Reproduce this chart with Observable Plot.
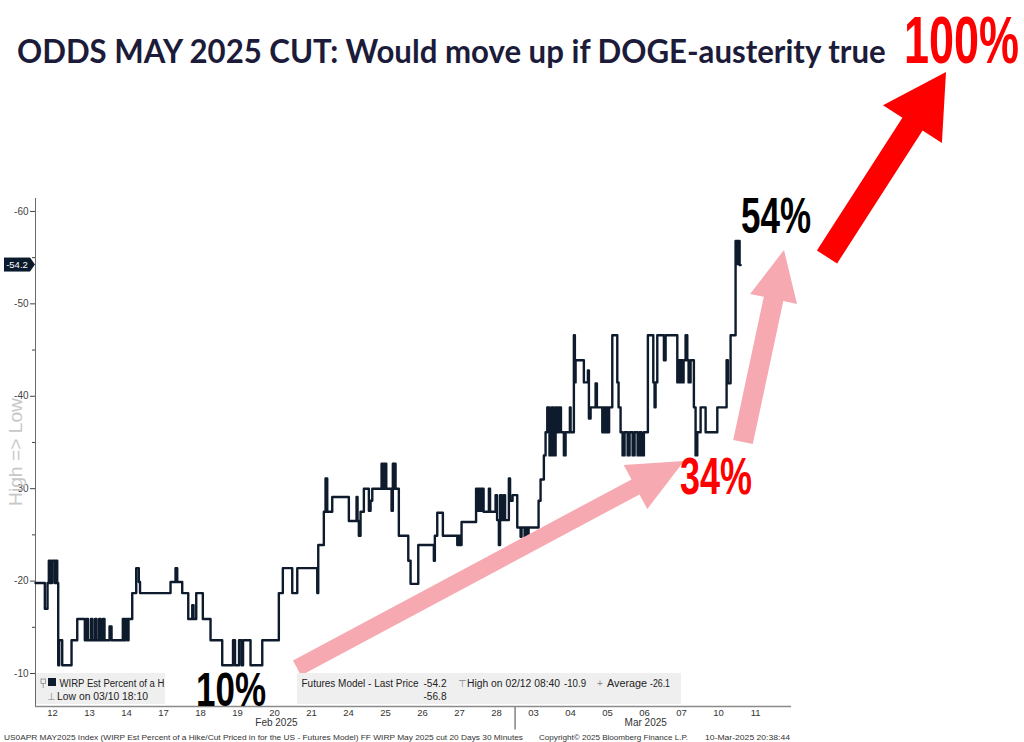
<!DOCTYPE html>
<html><head><meta charset="utf-8">
<script src="https://cdn.jsdelivr.net/npm/d3@7"></script>
<script src="https://cdn.jsdelivr.net/npm/@observablehq/plot@0.6"></script>
<style>
html,body{margin:0;padding:0;background:#fff;width:1024px;height:742px;overflow:hidden;}
#wrap{position:relative;width:1024px;height:742px;}
#wrap svg{position:absolute;left:0;top:0;}
</style></head><body><div id="wrap"></div>
<script>
// ---- data ----
const tradingDays = ["12","13","14","17","18","19","20","21","24","25","26","27","28","03","04","05","06","07","10","11"];
const monthLabels = ["Feb 2025","Mar 2025"];
const monthLabelPos = [6.55, 16.53];
const monthBreak = [13];
const yTicks = [-60,-50,-40,-30,-20,-10];
const yMinorTicks = [-55,-45,-35,-25,-15];
const lastPrice = -54.2, lowValue = -56.8, highValue = -10.9, averageValue = -26.1;

// session position (trading-day index + fraction of day) and value
const sessionPos = [0.041,0.292,0.365,0.400,0.446,0.486,0.554,0.581,0.627,0.654,0.681,0.762,1.014,1.168,
  1.373,1.420,1.460,1.540,1.580,1.650,1.690,1.760,1.800,1.860,1.905,2.041,2.095,2.400,2.446,2.473,2.527,2.554,2.654,2.762,2.832,2.865,3.689,3.824,3.870,4.005,4.168,4.276,4.311,4.384,4.562,4.770,5.086,
  5.378,5.432,5.541,5.608,5.649,5.851,6.168,6.616,6.724,6.978,7.114,7.654,7.681,7.832,7.878,7.924,8.059,8.508,8.716,8.743,8.778,8.824,8.914,9.049,9.095,9.141,
  9.392,9.440,9.473,9.519,9.662,9.697,9.716,9.730,9.770,9.859,10.114,10.176,10.384,10.805,10.832,10.897,11.049,11.438,11.459,11.473,11.500,11.527,11.554,11.946,11.986,12.022,12.068,12.095,12.149,12.292,12.324,12.473,12.514,12.562,12.595,12.635,12.689,12.730,12.832,12.865,12.932,13.059,13.149,13.176,13.257,13.284,13.338,13.365,13.635,13.689,
  13.778,13.824,13.870,13.930,13.986,14.040,14.095,14.149,14.189,14.240,14.319,14.365,14.481,14.500,14.589,14.616,14.635,14.859,14.968,14.995,15.041,15.176,15.211,15.357,15.378,15.405,15.432,15.459,15.486,15.514,15.541,15.627,15.762,15.797,15.851,
  15.905,15.959,16.041,16.095,16.176,16.230,16.311,16.365,16.420,16.481,16.589,16.735,16.770,16.797,16.843,17.022,17.068,17.384,17.419,17.446,17.473,17.514,17.554,17.608,17.654,17.689,17.743,17.832,17.878,17.924,18.014,18.149,18.465,18.716,18.751,18.824,18.959,19.014,19.041,19.068,19.095];
const wirpValues = [-19.8,-17.0,-19.8,-22.2,-19.8,-22.2,-19.8,-22.2,-19.8,-10.9,-13.6,-10.9,-13.6,-15.9,
  -13.6,-15.9,-13.6,-15.9,-13.6,-15.9,-13.6,-15.9,-13.6,-15.9,-13.6,-15.1,-13.6,-15.9,-13.6,-15.9,-13.6,-15.9,-18.7,-21.4,-19.9,-18.7,-19.9,-21.4,-19.9,-18.7,-15.9,-17.4,-15.9,-18.7,-15.9,-13.6,-10.9,
  -13.6,-10.9,-13.6,-10.9,-13.6,-10.9,-13.6,-18.7,-21.4,-18.7,-21.4,-18.7,-23.9,-27.5,-31.1,-27.5,-29.1,-26.5,-29.1,-26.5,-24.9,-27.5,-30.0,-27.6,-28.7,-30.0,
  -32.7,-30.0,-32.7,-30.0,-27.6,-32.7,-30.0,-32.7,-30.0,-24.9,-22.2,-19.7,-23.9,-22.2,-24.9,-27.4,-24.9,-23.9,-24.9,-23.9,-24.9,-23.9,-26.4,-30.0,-27.6,-30.0,-27.6,-30.0,-27.5,-30.0,-27.5,-29.3,-26.6,-23.9,-29.3,-26.6,-29.3,-26.6,-31.1,-28.7,-29.3,-25.8,-24.8,-25.8,-24.8,-25.8,-24.8,-25.8,-28.7,-31.0,
  -33.6,-36.1,-38.8,-33.6,-38.8,-33.6,-38.8,-36.1,-38.8,-36.1,-33.6,-36.1,-38.8,-36.1,-46.6,-41.5,-43.9,-41.5,-42.8,-37.6,-38.8,-41.4,-38.8,-36.1,-38.8,-36.1,-38.8,-36.1,-38.8,-36.1,-38.8,-46.6,-41.5,-38.8,-36.1,
  -33.6,-36.1,-33.6,-36.1,-33.6,-36.1,-33.6,-36.1,-33.6,-36.1,-46.6,-41.5,-38.8,-41.5,-46.6,-43.9,-46.6,-41.5,-43.9,-41.5,-43.9,-41.5,-43.9,-46.6,-43.9,-41.5,-43.9,-38.8,-33.6,-36.1,-38.8,-36.1,-38.8,-43.9,-41.4,-46.6,-56.8,-54.3,-56.8,-54.2,-54.2];

const series = sessionPos.map((t, i) => ({t, v: wirpValues[i]}));
const dayTicks = tradingDays.map((d, i) => i + 0.5);
const fmt = d => "-" + Math.abs(d);

const plot = Plot.plot({
  width: 1024, height: 742,
  marginLeft: 35, marginRight: 233, marginTop: 198, marginBottom: 36,
  style: {background: "transparent", fontFamily: "'Liberation Sans', Arial, sans-serif", color: "#333"},
  x: {domain: [0.04, 20.47], axis: null},
  y: {domain: [-6.43, -61.4], axis: null},
  marks: [
    Plot.ruleY([-6.43], {stroke: "#8a8a8a", strokeWidth: 1.6}),
    Plot.ruleX([0.04], {stroke: "#6a6a6a", strokeWidth: 1}),
    Plot.axisY({ticks: yTicks, tickSize: 5, tickPadding: 2, tickFormat: fmt, fontSize: 10, color: "#444", anchor: "left", label: null}),
    Plot.axisY({ticks: yMinorTicks, tickSize: 3, tickFormat: () => "", color: "#444", anchor: "left", label: null}),
    Plot.axisX({ticks: dayTicks, tickSize: 0, tickPadding: 3, tickFormat: d => tradingDays[Math.floor(d)], fontSize: 9.5, color: "#333", anchor: "bottom", label: null}),
    Plot.text(monthLabels, {x: monthLabelPos, text: d => d, frameAnchor: "bottom", dy: 19.5, fontSize: 10, fill: "#333"}),
    Plot.ruleX(monthBreak, {y1: -6.43, y2: -3.9, stroke: "#8a8a8a", strokeWidth: 1.6}),
    Plot.line(series, {x: "t", y: "v", curve: "step-after", stroke: "#0e1b2d", strokeWidth: 2.4})
  ]
});
const wrap = document.getElementById("wrap");
wrap.appendChild(plot);

// ---- annotation overlay ----
const yS = plot.scale("y");
const yLast = yS.apply(lastPrice);

function arrow(sx, sy, tx, ty, hw, hl, hh) {
  const dx = tx - sx, dy = ty - sy, L = Math.hypot(dx, dy);
  const ux = dx / L, uy = dy / L, nx = -uy, ny = ux;
  const bx = tx - ux * hl, by = ty - uy * hl;
  const p = [
    [sx + nx * hw, sy + ny * hw], [bx + nx * hw, by + ny * hw], [bx + nx * hh, by + ny * hh],
    [tx, ty],
    [bx - nx * hh, by - ny * hh], [bx - nx * hw, by - ny * hw], [sx - nx * hw, sy - ny * hw]
  ];
  return p.map(q => q[0].toFixed(1) + "," + q[1].toFixed(1)).join(" ");
}

const big = "font-family:'Liberation Sans Narrow','Liberation Sans',Arial,sans-serif;font-weight:bold;";
const sm = "font-family:'Liberation Sans',Arial,sans-serif;";
const ov = document.createElementNS("http://www.w3.org/2000/svg", "svg");
ov.setAttribute("width", 1024); ov.setAttribute("height", 742);
ov.innerHTML = `
  <text class="fit" data-x="17" data-y="63" data-w="869" style="font-family:Lato,'Open Sans',sans-serif;font-weight:bold;font-size:32px;fill:#1c1c3a">ODDS MAY 2025 CUT: Would move up if DOGE-austerity true</text>
  <text class="fit" data-x="904" data-y="63" data-w="115" style="${big}font-size:67px;fill:#ff0000">100%</text>
  <polygon points="${arrow(827, 257, 946, 72, 12, 62, 35)}" fill="#ff0000"/>
  <polygon points="${arrow(297, 668, 684, 461, 8.5, 55, 25)}" fill="#f6a9b0"/>
  <polygon points="${arrow(743, 442, 784, 250, 10, 50, 24)}" fill="#f6a9b0"/>
  <text class="fit" data-x="741" data-y="233" data-w="70" style="${big}font-size:50px;fill:#000">54%</text>
  <text class="fit" data-x="680" data-y="494" data-w="72" style="${big}font-size:52px;fill:#ff0000">34%</text>
  <rect x="36" y="673" width="645" height="31" fill="#efefef"/>
  <rect x="41" y="679" width="4.5" height="4.5" fill="none" stroke="#888" stroke-width="0.8"/>
  <line x1="43.2" y1="683.5" x2="43.2" y2="688" stroke="#888" stroke-width="0.8"/>
  <rect x="48" y="678" width="8" height="8" fill="#0e1b2d"/>
  <text x="59.5" y="687" textLength="105" lengthAdjust="spacingAndGlyphs" style="${sm}font-size:10px;fill:#222">WIRP Est Percent of a H</text>
  <text x="47" y="700" style="${sm}font-size:10px;fill:#888">⊥</text>
  <text x="57" y="700" textLength="91" lengthAdjust="spacingAndGlyphs" style="${sm}font-size:10px;fill:#222">Low on 03/10 18:10</text>
  <text x="301.5" y="687" textLength="117" lengthAdjust="spacingAndGlyphs" style="${sm}font-size:10px;fill:#222">Futures Model - Last Price</text>
  <text x="423.5" y="687" textLength="23" lengthAdjust="spacingAndGlyphs" style="${sm}font-size:10px;fill:#222">${lastPrice}</text>
  <text x="423.5" y="700" textLength="23" lengthAdjust="spacingAndGlyphs" style="${sm}font-size:10px;fill:#222">${lowValue}</text>
  <text x="458" y="687" style="${sm}font-size:10px;fill:#888">⊤</text>
  <text x="467" y="687" textLength="93" lengthAdjust="spacingAndGlyphs" style="${sm}font-size:10px;fill:#222">High on 02/12 08:40</text>
  <text x="564" y="687" textLength="22" lengthAdjust="spacingAndGlyphs" style="${sm}font-size:10px;fill:#222">${highValue}</text>
  <text x="597" y="687" style="${sm}font-size:10px;fill:#888">+</text>
  <text x="607" y="687" textLength="40" lengthAdjust="spacingAndGlyphs" style="${sm}font-size:10px;fill:#222">Average</text>
  <text x="650" y="687" textLength="20" lengthAdjust="spacingAndGlyphs" style="${sm}font-size:10px;fill:#222">${averageValue}</text>
  <rect x="165" y="667" width="132" height="38" fill="#ffffff"/>
  <text class="fit" data-x="196" data-y="706" data-w="70" style="${big}font-size:48px;fill:#000">10%</text>
  <text transform="translate(22,452) rotate(-90)" text-anchor="middle" textLength="108" lengthAdjust="spacingAndGlyphs" style="${sm}font-size:19px;fill:#c8c8c8">High =&gt; Low</text>
  <rect x="4" y="${yLast - 7}" width="26" height="14" fill="#0b1a2c"/>
  <polygon points="30,${yLast - 7} 35,${yLast} 30,${yLast + 7}" fill="#0b1a2c"/>
  <text x="17" y="${yLast + 3.5}" text-anchor="middle" style="${sm}font-size:9.5px;fill:#fff">${lastPrice}</text>
  <text x="4" y="739.5" textLength="519" lengthAdjust="spacingAndGlyphs" style="${sm}font-size:8px;fill:#333">US0APR MAY2025 Index (WIRP Est Percent of a Hike/Cut Priced in for the US - Futures Model) FF WIRP May 2025 cut 20 Days 30 Minutes</text>
  <text x="539" y="739.5" textLength="149" lengthAdjust="spacingAndGlyphs" style="${sm}font-size:8px;fill:#333">Copyright© 2025 Bloomberg Finance L.P.</text>
  <text x="705" y="739.5" textLength="85" lengthAdjust="spacingAndGlyphs" style="${sm}font-size:8px;fill:#333">10-Mar-2025 20:38:44</text>
`;
wrap.appendChild(ov);
// fit big texts horizontally with a transform (keeps their boxes inside the page)
ov.querySelectorAll("text.fit").forEach(el => {
  const w0 = el.getComputedTextLength();
  const sx = (+el.dataset.w) / w0;
  el.setAttribute("transform", `translate(${el.dataset.x},${el.dataset.y}) scale(${sx.toFixed(4)},1)`);
});
</script>
</body></html>
